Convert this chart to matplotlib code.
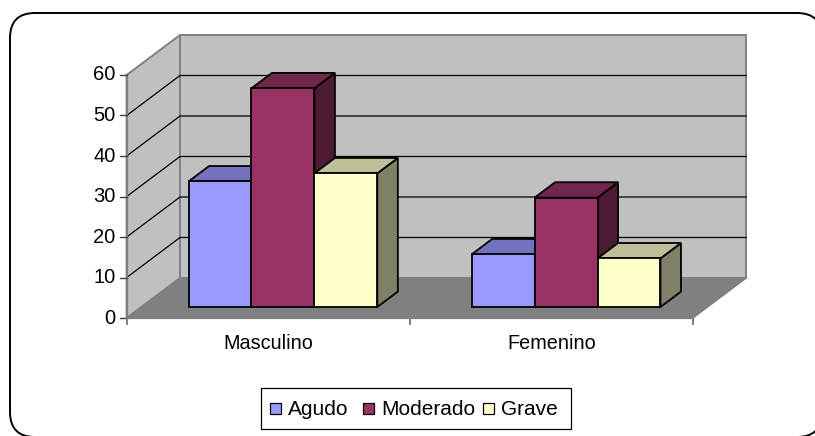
import matplotlib
matplotlib.use("Agg")
import matplotlib.pyplot as plt
from matplotlib.patches import Polygon, Rectangle, FancyBboxPatch

# ---- data ----
categories = ["Masculino", "Femenino"]
series = ["Agudo", "Moderado", "Grave"]
agudo = [31, 13]
moderado = [54, 27]
grave = [33, 12]
yticks = [0, 10, 20, 30, 40, 50, 60]

front_colors = ["#9999FF", "#993366", "#FFFFCC"]
top_colors = ["#7373BF", "#73264D", "#BFBF99"]
side_colors = ["#4D4D80", "#4D1A33", "#808066"]

plt.rcParams['font.family'] = ['Liberation Sans', 'DejaVu Sans']

W, H = 815, 436
fig = plt.figure(figsize=(W / 100, H / 100), dpi=100)
ax = fig.add_axes([0, 0, 1, 1])
ax.set_xlim(0, W)
ax.set_ylim(H, 0)
ax.axis('off')

# projection parameters (pixel space)
X0, Y0 = 126.7, 318.0
X1 = 693.0
DX, DY = 53.3, 40.0
VMAX = yticks[-1]
S = (Y0 - 75.0) / VMAX


def P(x, v, z):
    return (X0 + x + z * DX, Y0 - v * S - z * DY)


# outer rounded border
border = FancyBboxPatch((10, 13), 812, 424, boxstyle="round,pad=0,rounding_size=25",
                        fc='white', ec='black', lw=1.4, zorder=0)
ax.add_patch(border)

wall_c = "#C0C0C0"
edge_c = "#808080"
# side wall
ax.add_patch(Polygon([P(0, 0, 0), P(0, VMAX, 0), P(0, VMAX, 1), P(0, 0, 1)],
                     closed=True, fc=wall_c, ec=edge_c, lw=1.4, zorder=1))
# back wall
L = X1 - X0
ax.add_patch(Polygon([P(0, 0, 1), P(0, VMAX, 1), P(L, VMAX, 1), P(L, 0, 1)],
                     closed=True, fc=wall_c, ec=edge_c, lw=1.4, zorder=1))
# gridlines
for v in yticks[1:-1]:
    a, b = P(0, v, 0), P(0, v, 1)
    c = P(L, v, 1)
    ax.plot([a[0], b[0], c[0]], [a[1], b[1], c[1]], color='black', lw=0.9, zorder=2)
# floor
ax.add_patch(Polygon([P(0, 0, 0), P(L, 0, 0), P(L, 0, 1), P(0, 0, 1)],
                     closed=True, fc="#808080", ec=edge_c, lw=1.0, zorder=2))

# axes lines
ax.plot([X0, X0], [Y0 - VMAX * S, Y0], color=edge_c, lw=1.6, zorder=3)
ax.plot([X0, X1], [Y0, Y0], color=edge_c, lw=1.6, zorder=3)
for v in yticks:
    y = Y0 - v * S
    ax.plot([X0 - 7, X0], [y, y], color='#404040', lw=1.0, zorder=3)
    ax.text(X0 - 11, y, str(v), ha='right', va='center', fontsize=14.5, zorder=3)

ncat = len(categories)
cw = L / ncat
for i in range(ncat + 1):
    ax.plot([X0 + i * cw, X0 + i * cw], [Y0, Y0 + 6], color=edge_c, lw=1.4, zorder=3)
for i, c in enumerate(categories):
    ax.text(X0 + (i + 0.5) * cw, 343, c, ha='center', va='center', fontsize=14.3, zorder=3)

# bars
bw = cw / (len(series) + 1.5)
z0, z1 = 0.275, 0.66
data = [agudo, moderado, grave]
z = 10
for i in range(ncat):
    for j in range(len(series)):
        v = data[j][i]
        xl = i * cw + 0.75 * bw + j * bw
        xr = xl + bw
        front = [P(xl, 0, z0), P(xl, v, z0), P(xr, v, z0), P(xr, 0, z0)]
        top = [P(xl, v, z0), P(xl, v, z1), P(xr, v, z1), P(xr, v, z0)]
        side = [P(xr, 0, z0), P(xr, v, z0), P(xr, v, z1), P(xr, 0, z1)]
        ax.add_patch(Polygon(side, closed=True, fc=side_colors[j], ec='black', lw=1.3,
                             joinstyle='miter', zorder=z))
        ax.add_patch(Polygon(top, closed=True, fc=top_colors[j], ec='black', lw=1.3,
                             joinstyle='miter', zorder=z + 1))
        ax.add_patch(Polygon(front, closed=True, fc=front_colors[j], ec='black', lw=1.3,
                             joinstyle='miter', zorder=z + 2))
        z += 3

# legend
ax.add_patch(Rectangle((261, 388), 310, 41, fc='white', ec='black', lw=0.9, zorder=50))
leg_x = [270, 363, 483]
for j, name in enumerate(series):
    ax.add_patch(Rectangle((leg_x[j], 403.3), 11, 11, fc=front_colors[j], ec='black',
                           lw=0.9, zorder=51))
    ax.text(leg_x[j] + 18, 409, name, ha='left', va='center', fontsize=15, zorder=51)

fig.savefig("out.png", dpi=100)
